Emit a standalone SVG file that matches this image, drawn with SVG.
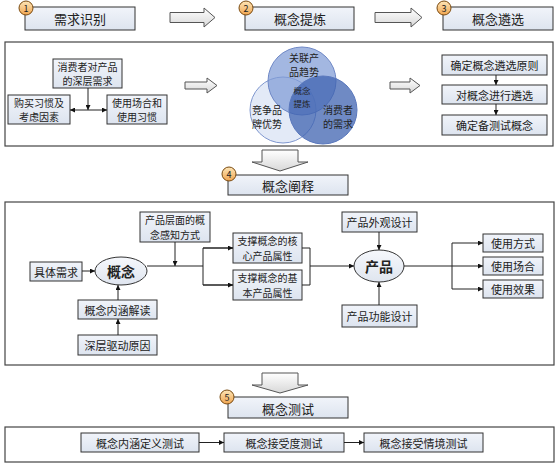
<svg xmlns="http://www.w3.org/2000/svg" width="560" height="466" viewBox="0 0 560 466">
<defs>
<linearGradient id="boxg" x1="0" y1="0" x2="0" y2="1"><stop offset="0" stop-color="#f1f4fa"/><stop offset="1" stop-color="#dde4ef"/></linearGradient>
<linearGradient id="badgeg" x1="0" y1="0" x2="0" y2="1"><stop offset="0" stop-color="#fde6b8"/><stop offset="1" stop-color="#f0a550"/></linearGradient>
<linearGradient id="arrg" x1="0" y1="0" x2="0" y2="1"><stop offset="0" stop-color="#ffffff"/><stop offset="1" stop-color="#d8d8d8"/></linearGradient>
<linearGradient id="ellg" x1="0" y1="0" x2="0" y2="1"><stop offset="0" stop-color="#f6f8fc"/><stop offset="1" stop-color="#dfe5ef"/></linearGradient>
<marker id="ah" viewBox="0 0 10 10" refX="10" refY="5" markerWidth="5" markerHeight="5" markerUnits="userSpaceOnUse" orient="auto"><path d="M0,0L10,5L0,10z" fill="#111"/></marker>
</defs>
<style>
text{font-family:"Noto Sans CJK SC","Liberation Sans",sans-serif;fill:#222;text-anchor:middle;dominant-baseline:central}
.t{font-size:11px}
.t2{font-size:10px}
.big{font-size:13px}
.b{fill:url(#boxg);stroke:#333;stroke-width:1}
.panel{fill:#fff;stroke:#444;stroke-width:1.2}
.badge{fill:url(#badgeg);stroke:#7a4a10;stroke-width:1}
.bn{font-size:9px;fill:#222}
.ha{fill:url(#arrg);stroke:#555;stroke-width:1}
.ln{fill:none;stroke:#222;stroke-width:1}
.ar{fill:none;stroke:#222;stroke-width:1;marker-end:url(#ah)}
.ell{fill:url(#ellg);stroke:#333;stroke-width:1}
.et{font-size:14px;font-weight:bold}
.vt{font-size:10px}
.vs{font-size:8.5px}
</style>
<rect width="560" height="466" fill="#fff"/>

<!-- Top row stage boxes -->
<g id="stage1"><rect class="b" x="25" y="7" width="110" height="23"/><circle class="badge" cx="26" cy="8" r="7"/><text class="bn" x="26" y="8">1</text><text class="big" x="80" y="18.5">需求识别</text></g>
<g id="stage2"><rect class="b" x="245" y="7" width="109" height="23"/><circle class="badge" cx="246" cy="8" r="7"/><text class="bn" x="246" y="8">2</text><text class="big" x="300" y="18.5">概念提炼</text></g>
<g id="stage3"><rect class="b" x="443" y="7" width="110" height="23"/><circle class="badge" cx="444" cy="8" r="7"/><text class="bn" x="444" y="8">3</text><text class="big" x="498" y="18.5">概念遴选</text></g>

<g id="top-arrows">
<polygon class="ha" points="170,12.5 204,12.5 204,8 215,17.5 204,27 204,22.5 170,22.5"/>
<polygon class="ha" points="375,12.5 411,12.5 411,8 422,17.5 411,27 411,22.5 375,22.5"/>
</g>

<!-- Panel 1 -->
<g id="panel1"><rect class="panel" x="5" y="42" width="548" height="104"/></g>
<g id="need-deep"><rect class="b" x="53" y="59" width="69" height="29"/><text class="t2" x="87.5" y="66">消费者对产品</text><text class="t2" x="87.5" y="80.5">的深层需求</text></g>
<g id="buy-habit"><rect class="b" x="8" y="95" width="62" height="29"/><text class="t2" x="39" y="102">购买习惯及</text><text class="t2" x="39" y="116.5">考虑因素</text></g>
<g id="use-habit"><rect class="b" x="107" y="95" width="60" height="29"/><text class="t2" x="137" y="102">使用场合和</text><text class="t2" x="137" y="116.5">使用习惯</text></g>

<g id="venn">
<circle cx="283" cy="110" r="33" fill="#e3eaf7" stroke="#7f97cf" stroke-width="1"/>
<circle cx="302" cy="81" r="34" fill="#7f9bd6" fill-opacity="0.72" stroke="#6f88c6" stroke-width="1"/>
<circle cx="323" cy="110" r="34" fill="#3f63b0" fill-opacity="0.75" stroke="#5a78bd" stroke-width="1"/>
<text class="vt" x="304" y="57">关联产</text><text class="vt" x="304" y="71.5">品趋势</text>
<text class="vs" x="302" y="90">概念</text><text class="vs" x="302" y="102.5">提炼</text>
<text class="vt" x="267" y="109">竞争品</text><text class="vt" x="267" y="123.5">牌优势</text>
<text class="vt" x="338" y="109">消费者</text><text class="vt" x="338" y="123.5">的需求</text>
</g>

<g id="sel-principle"><rect class="b" x="442" y="55" width="105" height="20"/><text class="t" x="494.5" y="65">确定概念遴选原则</text></g>
<g id="sel-do"><rect class="b" x="442" y="85" width="105" height="19"/><text class="t" x="494.5" y="94.5">对概念进行遴选</text></g>
<g id="sel-final"><rect class="b" x="442" y="115" width="105" height="20"/><text class="t" x="494.5" y="125">确定备测试概念</text></g>

<!-- Panel 2 -->
<g id="panel2"><rect class="panel" x="5" y="202" width="549" height="163"/></g>
<g id="stage4"><rect class="b" x="228" y="175" width="120" height="20"/><circle class="badge" cx="229" cy="174" r="7"/><text class="bn" x="229" y="174">4</text><text class="big" x="288" y="185.5">概念阐释</text></g>
<g id="perceive"><rect class="b" x="140" y="212" width="70" height="30"/><text class="t2" x="175" y="219.5">产品层面的概</text><text class="t2" x="175" y="234">念感知方式</text></g>
<g id="spec-need"><rect class="b" x="30" y="262" width="52" height="19"/><text class="t" x="56" y="271.5">具体需求</text></g>
<g id="concept"><ellipse class="ell" cx="121" cy="271" rx="26" ry="14"/><text class="et" x="121" y="271">概念</text></g>
<g id="connotation"><rect class="b" x="78" y="300" width="79" height="19"/><text class="t" x="117.5" y="309.5">概念内涵解读</text></g>
<g id="drive"><rect class="b" x="78" y="335" width="79" height="20"/><text class="t" x="117.5" y="345">深层驱动原因</text></g>
<g id="core-attr"><rect class="b" x="233" y="233" width="69" height="30"/><text class="t2" x="267.5" y="240.5">支撑概念的核</text><text class="t2" x="267.5" y="255">心产品属性</text></g>
<g id="base-attr"><rect class="b" x="233" y="270" width="69" height="30"/><text class="t2" x="267.5" y="277.5">支撑概念的基</text><text class="t2" x="267.5" y="292">本产品属性</text></g>
<g id="product"><ellipse class="ell" cx="379" cy="266" rx="25" ry="16"/><text class="et" x="379" y="266">产品</text></g>
<g id="look"><rect class="b" x="342" y="212" width="75" height="20"/><text class="t" x="379.5" y="222">产品外观设计</text></g>
<g id="func"><rect class="b" x="342" y="305" width="75" height="22"/><text class="t" x="379.5" y="316">产品功能设计</text></g>
<g id="use-way"><rect class="b" x="483" y="234" width="60" height="18"/><text class="t" x="513" y="243">使用方式</text></g>
<g id="use-place"><rect class="b" x="483" y="257" width="60" height="18"/><text class="t" x="513" y="266">使用场合</text></g>
<g id="use-effect"><rect class="b" x="483" y="280" width="60" height="18"/><text class="t" x="513" y="289">使用效果</text></g>

<!-- Panel 3 -->
<g id="panel3"><rect class="panel" x="5" y="427" width="549" height="35"/></g>
<g id="stage5"><rect class="b" x="228" y="397" width="120" height="21"/><circle class="badge" cx="227" cy="397" r="7"/><text class="bn" x="227" y="397">5</text><text class="big" x="288" y="408">概念测试</text></g>
<g id="test1"><rect class="b" x="81" y="433" width="118" height="19"/><text class="t" x="140" y="442.5">概念内涵定义测试</text></g>
<g id="test2"><rect class="b" x="224" y="433" width="120" height="19"/><text class="t" x="284" y="442.5">概念接受度测试</text></g>
<g id="test3"><rect class="b" x="364" y="433" width="119" height="19"/><text class="t" x="423.5" y="442.5">概念接受情境测试</text></g>

<!-- Connectors -->
<g id="connectors">
<polygon class="ha" points="185,82 207,82 207,78 217,85.5 207,93 207,89 185,89"/>
<polygon class="ha" points="390,82 410,82 410,78 420,85.5 410,93 410,89 390,89"/>
<polygon class="ha" points="262,150 298,150 298,162 308,162 280,171 252,162 262,162"/>
<polygon class="ha" points="262,373 298,373 298,385 308,385 280,393 252,385 262,385"/>
<line class="ar" x1="88" y1="88" x2="88" y2="110"/>
<line class="ar" x1="88" y1="110" x2="70" y2="110"/>
<line class="ar" x1="88" y1="110" x2="107" y2="110"/>
<line class="ar" x1="496" y1="75" x2="496" y2="85"/>
<line class="ar" x1="496" y1="104" x2="496" y2="115"/>
<line class="ar" x1="82" y1="271" x2="95" y2="271"/>
<line class="ar" x1="118" y1="335" x2="118" y2="319"/>
<line class="ar" x1="118" y1="300" x2="118" y2="285"/>
<line class="ln" x1="147" y1="266" x2="203" y2="266"/>
<line class="ar" x1="175" y1="242" x2="175" y2="266"/>
<polyline class="ln" points="233,248 203,248 203,285 233,285"/>
<line class="ar" x1="203" y1="248" x2="233" y2="248"/>
<line class="ar" x1="203" y1="285" x2="233" y2="285"/>
<polyline class="ln" points="302,248 310,248 310,285 302,285"/>
<line class="ar" x1="310" y1="266" x2="354" y2="266"/>
<line class="ar" x1="379" y1="232" x2="379" y2="250"/>
<line class="ar" x1="379" y1="305" x2="379" y2="282"/>
<line class="ln" x1="404" y1="266" x2="452" y2="266"/>
<line class="ln" x1="452" y1="243" x2="452" y2="289"/>
<line class="ar" x1="452" y1="243" x2="483" y2="243"/>
<line class="ar" x1="452" y1="266" x2="483" y2="266"/>
<line class="ar" x1="452" y1="289" x2="483" y2="289"/>
<line class="ar" x1="199" y1="442.5" x2="224" y2="442.5"/>
<line class="ar" x1="344" y1="442.5" x2="364" y2="442.5"/>
</g>
</svg>
